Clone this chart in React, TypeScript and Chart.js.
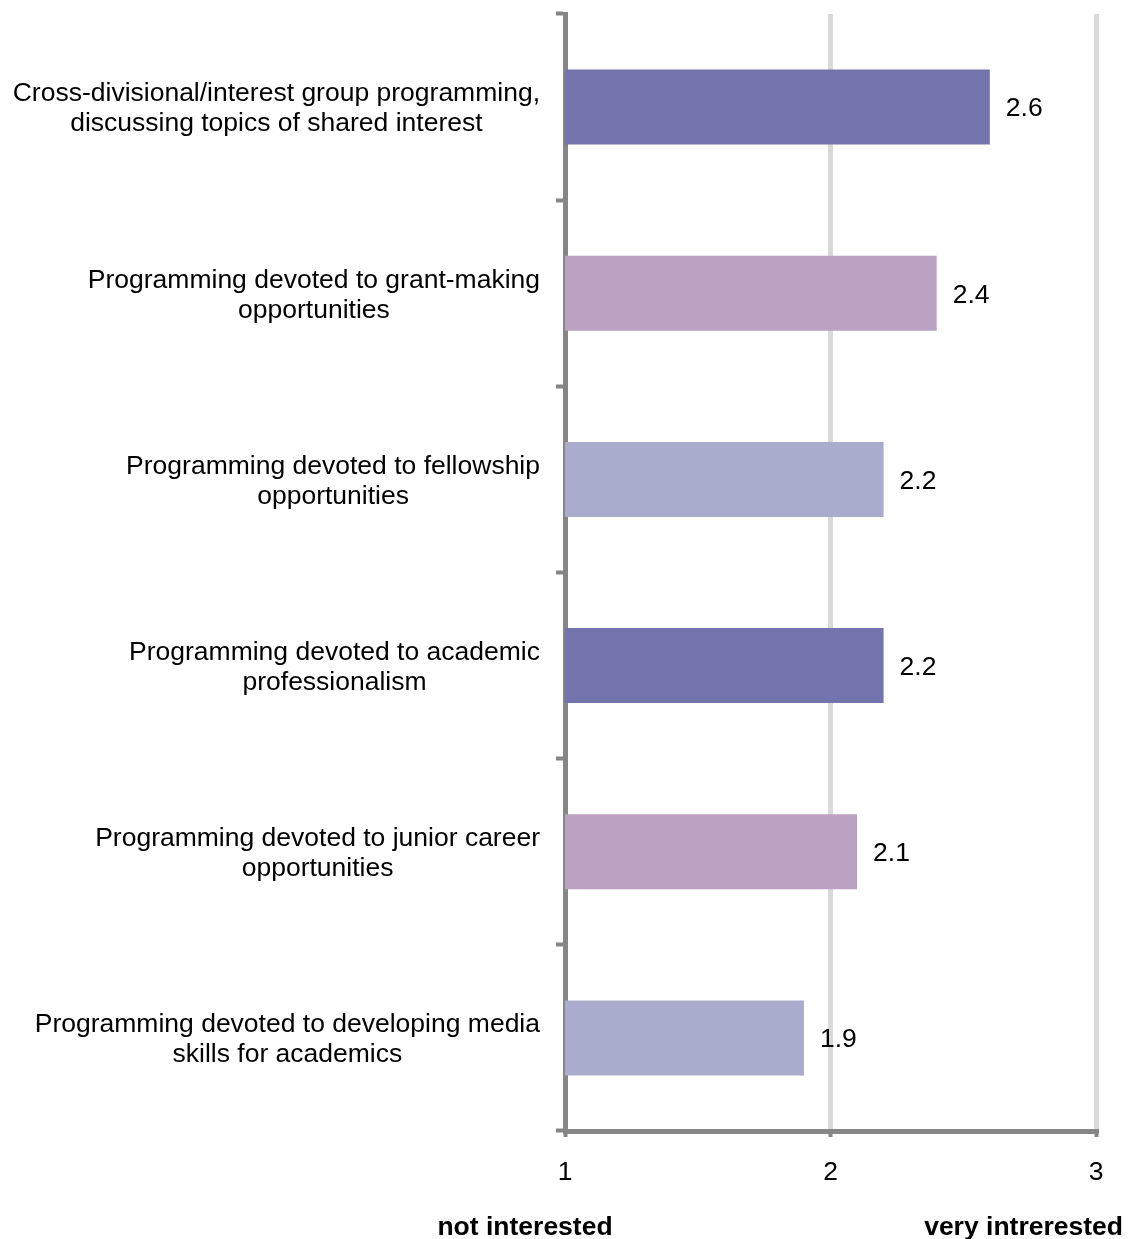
import React, { useEffect, useRef } from 'react';
import { Chart, registerables } from 'chart.js';

Chart.register(...registerables);

const categories: string[][] = [
  ['Cross-divisional/interest group programming,', 'discussing topics of shared interest'],
  ['Programming devoted to grant-making', 'opportunities'],
  ['Programming devoted to fellowship', 'opportunities'],
  ['Programming devoted to academic', 'professionalism'],
  ['Programming devoted to junior career', 'opportunities'],
  ['Programming devoted to developing media', 'skills for academics'],
];
const values: number[] = [2.6, 2.4, 2.2, 2.2, 2.1, 1.9];
const barColors: string[] = ['#7474AC', '#BBA1C2', '#AAACCE', '#7474AC', '#BBA1C2', '#AAACCE'];
const xMin = 1;
const xMax = 3;
const xAxisLeftLabel = 'not interested';
const xAxisRightLabel = 'very intrerested';

const FONT = '"Liberation Sans", Arial, sans-serif';
const FS = 26.5;
const AXIS_GRAY = '#868686';
const GRID_GRAY = '#d9d9d9';

const categoryLabelPlugin = {
  id: 'categoryLabels',
  afterDraw(chart: any) {
    const ctx = chart.ctx;
    const y = chart.scales.y;
    const right = chart.chartArea.left - 25;
    ctx.save();
    ctx.font = `${FS}px ${FONT}`;
    ctx.fillStyle = '#000';
    ctx.textAlign = 'center';
    ctx.textBaseline = 'middle';
    categories.forEach((lines, i) => {
      const cy = y.getPixelForValue(i) + 2;
      const widest = Math.max(...lines.map((l) => ctx.measureText(l).width));
      const cx = right - widest / 2;
      lines.forEach((line, j) => {
        ctx.fillText(line, cx, cy + (j - (lines.length - 1) / 2) * 30);
      });
    });
    ctx.restore();
  },
};

const valueLabelPlugin = {
  id: 'valueLabels',
  afterDatasetsDraw(chart: any) {
    const ctx = chart.ctx;
    const meta = chart.getDatasetMeta(0);
    ctx.save();
    ctx.font = `${FS}px ${FONT}`;
    ctx.fillStyle = '#000';
    ctx.textAlign = 'left';
    ctx.textBaseline = 'middle';
    meta.data.forEach((el: any, i: number) => {
      ctx.fillText(values[i].toFixed(1), el.x + 16, el.y + 2);
    });
    ctx.restore();
  },
};

const axisTitlePlugin = {
  id: 'axisTitles',
  afterDraw(chart: any) {
    const ctx = chart.ctx;
    const x = chart.scales.x;
    const yPos = chart.chartArea.bottom + 97;
    ctx.save();
    ctx.font = `bold ${FS}px ${FONT}`;
    ctx.fillStyle = '#000';
    ctx.textBaseline = 'middle';
    ctx.textAlign = 'center';
    ctx.fillText(xAxisLeftLabel, x.getPixelForValue(xMin) - 40, yPos);
    ctx.textAlign = 'right';
    ctx.fillText(xAxisRightLabel, x.getPixelForValue(xMax) + 27, yPos);
    ctx.restore();
  },
};

export default function App() {
  const ref = useRef<HTMLCanvasElement | null>(null);

  useEffect(() => {
    document.body.style.margin = '0';
    document.body.style.overflow = 'hidden';
    Chart.defaults.font.family = FONT;
    const chart = new Chart(ref.current as HTMLCanvasElement, {
      type: 'bar',
      data: {
        labels: categories.map((c) => c.join(' ')),
        datasets: [
          {
            data: values,
            backgroundColor: barColors,
            borderWidth: 0,
            categoryPercentage: 1,
            barPercentage: 0.403,
          },
        ],
      },
      options: {
        indexAxis: 'y',
        responsive: false,
        animation: false,
        layout: { padding: { top: 14, right: 34, left: 0, bottom: 0 } },
        plugins: {
          legend: { display: false },
          tooltip: { enabled: false },
        },
        scales: {
          x: {
            type: 'linear',
            min: xMin,
            max: xMax,
            ticks: {
              stepSize: 1,
              font: { size: FS, family: FONT },
              color: '#000',
              padding: 20,
            },
            grid: {
              color: (c: any) => (c.index === 0 ? 'rgba(0,0,0,0)' : GRID_GRAY),
              lineWidth: 5,
              tickColor: AXIS_GRAY,
              tickWidth: 4,
              tickLength: 6,
            },
            border: { color: AXIS_GRAY, width: 5 },
            afterFit: (s: any) => {
              s.height = 108;
            },
          },
          y: {
            type: 'category',
            ticks: { display: false },
            grid: {
              offset: true,
              drawOnChartArea: false,
              drawTicks: true,
              tickLength: 9,
              tickColor: AXIS_GRAY,
              tickWidth: 4,
              color: AXIS_GRAY,
            },
            border: { color: AXIS_GRAY, width: 5 },
            afterFit: (s: any) => {
              s.width = 565;
            },
          },
        },
      },
      plugins: [categoryLabelPlugin, valueLabelPlugin, axisTitlePlugin],
    } as any);
    return () => chart.destroy();
  }, []);

  return (
    <canvas ref={ref} width={1130} height={1239} style={{ display: 'block', width: 1130, height: 1239 }} />
  );
}
